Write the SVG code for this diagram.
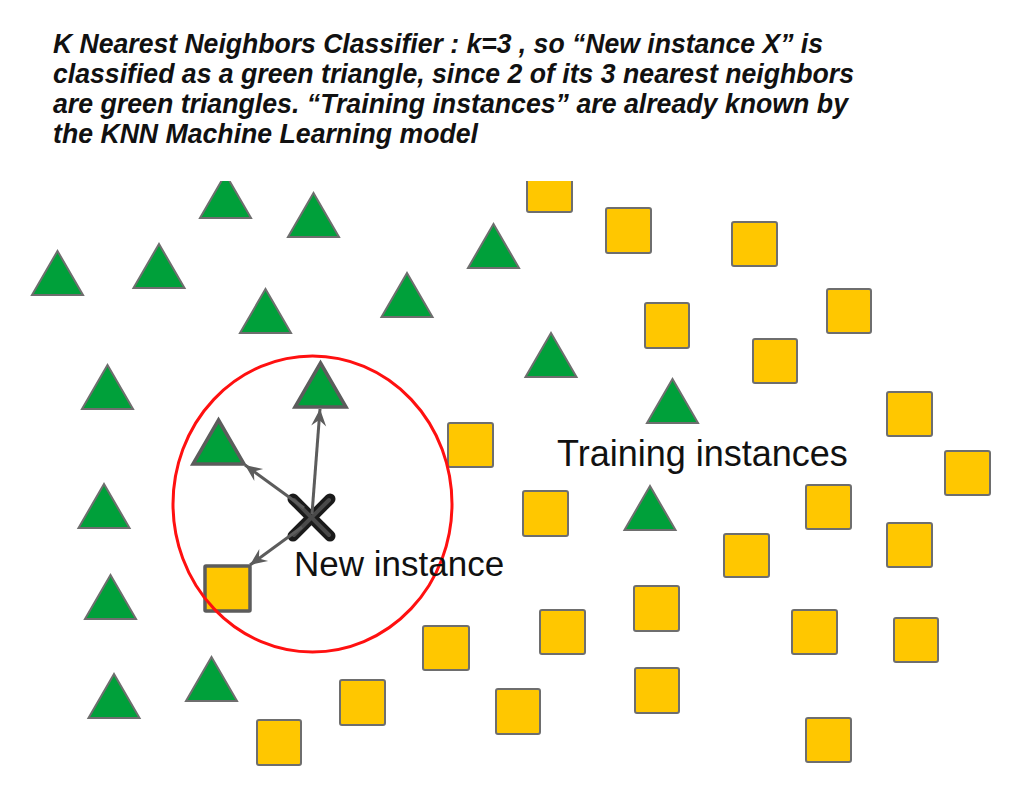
<svg xmlns="http://www.w3.org/2000/svg" width="1024" height="801" viewBox="0 0 1024 801">
<style>
.title{font-family:"Liberation Sans",Arial,sans-serif;font-size:27px;font-weight:bold;font-style:italic;fill:#111}
.lbl{font-family:"Liberation Sans",Arial,sans-serif;fill:#111}
.tri{fill:#00a03a;stroke:#6e6e6e;stroke-width:2;stroke-linejoin:miter}
.sq{fill:#ffc700;stroke:#6e6e6e;stroke-width:2}
.near{stroke:#5c5c5c;stroke-width:3.5}
.arrow{stroke:#5c5c5c;stroke-width:3;fill:none;marker-end:url(#ah)}
</style>
<defs>
<marker id="ah" markerUnits="userSpaceOnUse" markerWidth="24" markerHeight="20" viewBox="-18 -10 20 20" refX="0" refY="0" orient="auto">
<path d="M0,0 L-17,-7.5 L-11,0 L-17,7.5 Z" fill="#5c5c5c"/>
</marker>
<clipPath id="topclip"><rect x="0" y="181" width="1024" height="620"/></clipPath>
</defs>
<rect width="1024" height="801" fill="#fff"/>
<g id="title">
<text class="title" x="53" y="53" textLength="770" lengthAdjust="spacingAndGlyphs">K Nearest Neighbors Classifier : k=3 , so “New instance X” is</text>
<text class="title" x="53" y="83" textLength="801" lengthAdjust="spacingAndGlyphs">classified as a green triangle, since 2 of its 3 nearest neighbors</text>
<text class="title" x="53" y="113" textLength="795" lengthAdjust="spacingAndGlyphs">are green triangles. “Training instances” are already known by</text>
<text class="title" x="53" y="143" textLength="425" lengthAdjust="spacingAndGlyphs">the KNN Machine Learning model</text>
</g>
<g id="triangles">
<polygon id="t1" class="tri" clip-path="url(#topclip)" points="225.5,174 251,218 200,218"/>
<polygon id="t2" class="tri" points="313.5,193 339,237 288,237"/>
<polygon id="t3" class="tri" points="57.5,251 83,295 32,295"/>
<polygon id="t4" class="tri" points="159,244 184.5,288 133.5,288"/>
<polygon id="t5" class="tri" points="265.5,289 291,333 240,333"/>
<polygon id="t6" class="tri" points="407,273 432.5,317 381.5,317"/>
<polygon id="t7" class="tri" points="493.5,224 519,268 468,268"/>
<polygon id="t8" class="tri" points="551,333 576.5,377 525.5,377"/>
<polygon id="t9" class="tri" points="107.5,365 133,409 82,409"/>
<polygon id="t11" class="tri" points="672.5,379 698,423 647,423"/>
<polygon id="t13" class="tri" points="104,484 129.5,528 78.5,528"/>
<polygon id="t14" class="tri" points="650,486 675.5,530 624.5,530"/>
<polygon id="t15" class="tri" points="110.5,575 136,619 85,619"/>
<polygon id="t16" class="tri" points="211.5,657 237,701 186,701"/>
<polygon id="t17" class="tri" points="114,674 139.5,718 88.5,718"/>
<polygon id="t10" class="tri near" points="320.5,363 346,407 295,407"/>
<polygon id="t12" class="tri near" points="218.5,420 244,464 193,464"/>
</g>
<g id="squares">
<rect id="s1" class="sq" clip-path="url(#topclip)" x="527" y="167" width="45" height="45" rx="2"/>
<rect id="s2" class="sq" x="606" y="208" width="45" height="45" rx="2"/>
<rect id="s3" class="sq" x="732" y="222" width="45" height="44" rx="2"/>
<rect id="s4" class="sq" x="827" y="289" width="44" height="44" rx="2"/>
<rect id="s5" class="sq" x="645" y="303" width="44" height="45" rx="2"/>
<rect id="s6" class="sq" x="753" y="339" width="44" height="44" rx="2"/>
<rect id="s7" class="sq" x="887" y="392" width="45" height="44" rx="2"/>
<rect id="s8" class="sq" x="448" y="423" width="45" height="44" rx="2"/>
<rect id="s9" class="sq" x="945" y="451" width="45" height="44" rx="2"/>
<rect id="s10" class="sq" x="523" y="491" width="45" height="45" rx="2"/>
<rect id="s11" class="sq" x="806" y="485" width="45" height="44" rx="2"/>
<rect id="s12" class="sq" x="887" y="523" width="45" height="44" rx="2"/>
<rect id="s13" class="sq" x="724" y="534" width="45" height="43" rx="2"/>
<rect id="s15" class="sq" x="634" y="586" width="45" height="45" rx="2"/>
<rect id="s16" class="sq" x="540" y="610" width="45" height="44" rx="2"/>
<rect id="s17" class="sq" x="423" y="626" width="46" height="44" rx="2"/>
<rect id="s18" class="sq" x="792" y="610" width="45" height="44" rx="2"/>
<rect id="s19" class="sq" x="894" y="618" width="44" height="44" rx="2"/>
<rect id="s20" class="sq" x="340" y="680" width="45" height="45" rx="2"/>
<rect id="s21" class="sq" x="635" y="668" width="44" height="45" rx="2"/>
<rect id="s22" class="sq" x="496" y="689" width="44" height="45" rx="2"/>
<rect id="s23" class="sq" x="257" y="720" width="44" height="45" rx="2"/>
<rect id="s24" class="sq" x="806" y="718" width="45" height="44" rx="2"/>
<rect id="s14" class="sq near" x="205" y="566" width="45" height="45" rx="1"/>
</g>
<g id="radius">
<ellipse cx="312.5" cy="504" rx="139.5" ry="148" fill="none" stroke="#ff1010" stroke-width="3"/>
</g>
<g id="new-instance">
<g stroke-linecap="round">
<line x1="293" y1="499" x2="330" y2="536" stroke="#1a1a1a" stroke-width="11"/>
<line x1="330" y1="499" x2="293" y2="536" stroke="#1a1a1a" stroke-width="11"/>
<line x1="294" y1="500" x2="329" y2="535" stroke="#4a4a4a" stroke-width="4"/>
<line x1="329" y1="500" x2="294" y2="535" stroke="#4a4a4a" stroke-width="4"/>
</g>
<text class="lbl" x="294" y="576" font-size="35">New instance</text>
</g>
<g id="connectors">
<line class="arrow" x1="312" y1="514" x2="320" y2="409"/>
<line class="arrow" x1="304" y1="508" x2="245" y2="465"/>
<line class="arrow" x1="302" y1="527" x2="250" y2="565"/>
</g>
<g id="training-label">
<text class="lbl" x="557" y="466" font-size="36">Training instances</text>
</g>
</svg>
